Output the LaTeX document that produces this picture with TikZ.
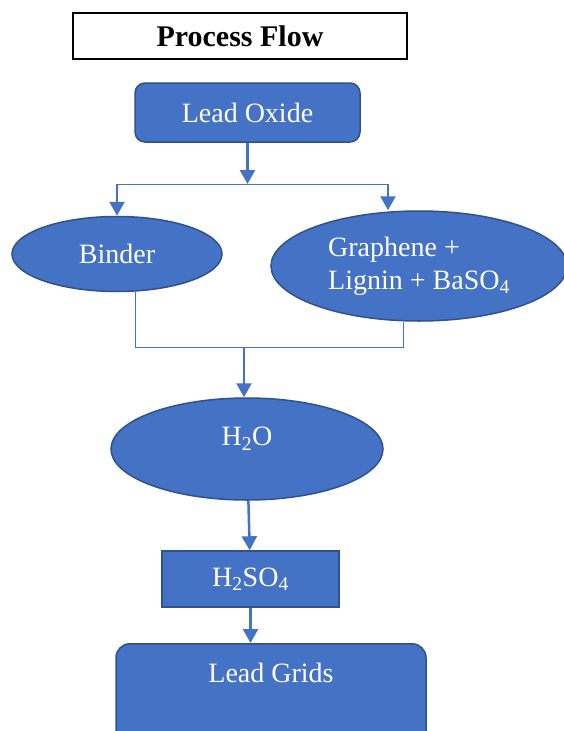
\documentclass[tikz,border=0pt]{standalone}
\usepackage{fontspec}
\setmainfont{Liberation Serif}
\usetikzlibrary{shapes.geometric,arrows.meta}
\definecolor{officeblue}{HTML}{4472C4}
\definecolor{edgeblue}{HTML}{2F528F}

\begin{document}
\begin{tikzpicture}[
            x=1pt, y=-1pt,
            every node/.style={font=\fontsize{28}{33}\selectfont, text=white},
            title/.style={rectangle, draw=black, line width=2pt, fill=white, text=black, font=\fontsize{30}{36}\selectfont\bfseries, minimum width=334pt, minimum height=46pt},
            block/.style={rectangle, draw=edgeblue, line width=1.5pt, fill=officeblue},
            blob/.style={ellipse, draw=edgeblue, line width=1.5pt, fill=officeblue, inner sep=0pt},
            arrow/.style={-{Triangle[width=15pt,length=14pt]}, line width=2.5pt, draw=officeblue},
            link/.style={line width=1pt, draw=officeblue}
        ]
        \useasboundingbox (0,0) rectangle (563,731);

        \node[title] (head) at (240,36) {Process Flow};

        \node[block, rounded corners=10pt, minimum width=225pt, minimum height=59pt] (oxide) at (247.5,112.5) {Lead Oxide};
        \node[blob, minimum width=210pt, minimum height=75pt] (binder) at (117,254) {Binder};
        \node[blob, minimum width=296pt, minimum height=110pt, align=left] (graphene) at (419,266) {Graphene +\\Lignin + BaSO\textsubscript{4}};
        \node[blob, minimum width=272pt, minimum height=102pt, text depth=25pt] (water) at (247,449) {H\textsubscript{2}O};
        \node[block, minimum width=177pt, minimum height=56pt] (sulf) at (250.5,579) {H\textsubscript{2}SO\textsubscript{4}};
        % text sits near the top, the box runs off the page
        \node[block, rounded corners=14pt, minimum width=310pt, anchor=north, text height=19pt, text depth=80pt, inner ysep=20pt] (grids) at (271,643) {Lead Grids};

        % split and join points
        \coordinate (split) at (247.5,184);
        \coordinate (splitL) at (117,184);
        \coordinate (splitR) at (388,184);
        \coordinate (joinL) at (135,347);
        \coordinate (joinR) at (403,347);
        \coordinate (join) at (244,347);

        \draw[arrow] (oxide) -- (split);
        \draw[link] (splitL) -- (splitR);
        \draw[arrow] (splitL) -- (binder);
        \draw[arrow] (splitR) -- (splitR |- graphene.north);

        \draw[link] (binder.south -| joinL) -- (joinL) -- (joinR) -- (graphene.south -| joinR);
        \draw[arrow] (join) -- (join |- water.north);
        \draw[arrow] (water) -- (sulf);
        \draw[arrow] (sulf.south) -- (sulf.south |- grids.north);

    \end{tikzpicture}
\end{document}
